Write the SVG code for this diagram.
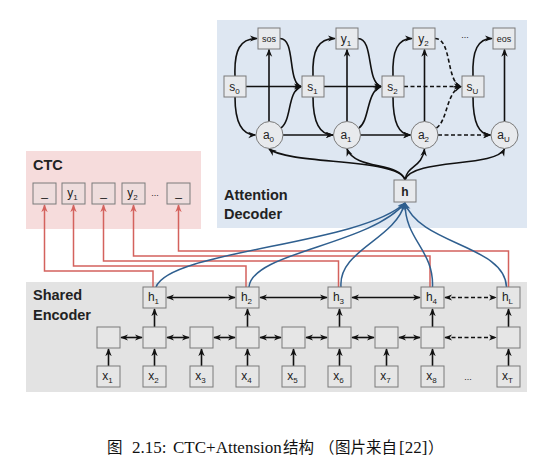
<svg xmlns="http://www.w3.org/2000/svg" width="546" height="466" viewBox="0 0 546 466">
<style>
.bg{stroke:none}
.box{stroke:#7a7a7a;stroke-width:1}
.dbox{fill:#e8eaed}
.cbox{fill:#eedddd}
.ebox{fill:#e6e6e6}
.lbl{font-family:"Liberation Sans",Arial,sans-serif;font-size:12px;fill:#222;text-anchor:middle}
.sm{font-size:9px}
.sub{font-size:8px}
.title{font-family:"Liberation Sans",Arial,sans-serif;font-size:14.5px;font-weight:bold;fill:#222}
.k{fill:none;stroke:#111;stroke-width:1.6}
.d{stroke-dasharray:4,2.5}
.r{fill:none;stroke:#d4625d;stroke-width:1.5}
.b{fill:none;stroke:#2f5f8f;stroke-width:1.5}
.cap{font-family:"Liberation Serif","Noto Sans CJK SC",serif;font-size:15.5px;fill:#111}
.lat{font-size:17px}
</style>
<defs>
<marker id="ak" viewBox="0 0 10 10" refX="9" refY="5" markerWidth="8" markerHeight="8" markerUnits="userSpaceOnUse" orient="auto-start-reverse"><path d="M0,1 L10,5 L0,9 L3,5z" fill="#111"/></marker>
<marker id="ar" viewBox="0 0 10 10" refX="9" refY="5" markerWidth="8" markerHeight="8" markerUnits="userSpaceOnUse" orient="auto"><path d="M0,1 L10,5 L0,9 L3,5z" fill="#d4625d"/></marker>
<marker id="ab" viewBox="0 0 10 10" refX="9" refY="5" markerWidth="8" markerHeight="8" markerUnits="userSpaceOnUse" orient="auto"><path d="M0,1 L10,5 L0,9 L3,5z" fill="#2f5f8f"/></marker>
</defs>
<rect width="546" height="466" fill="#fff"/>
<g id="backgrounds">
<rect class="bg" x="217" y="20" width="310" height="208" fill="#dee7f2"/>
<rect class="bg" x="26" y="151" width="175" height="78" fill="#f6dcdc"/>
<rect class="bg" x="26" y="282" width="501" height="110" fill="#e3e3e3"/>
</g>
<g id="titles">
<text class="title" x="33" y="170">CTC</text>
<text class="title" x="224" y="200">Attention</text>
<text class="title" x="224" y="219">Decoder</text>
<text class="title" x="33" y="300">Shared</text>
<text class="title" x="33" y="320">Encoder</text>
</g>
<g id="connectors">
<path class="k" d="M246,86.5 H301" marker-end="url(#ak)"/>
<path class="k" d="M324,86.5 H381" marker-end="url(#ak)"/>
<path class="k d" d="M404,86.5 H461" marker-end="url(#ak)"/>
<path class="k" d="M283,135 H333" marker-end="url(#ak)"/>
<path class="k" d="M360.5,135 H410.5" marker-end="url(#ak)"/>
<path class="k d" d="M438,135 H490.5" marker-end="url(#ak)"/>
<path class="k" d="M269,121.5 V49.5" marker-end="url(#ak)"/>
<path class="k" d="M347,121.5 V49.5" marker-end="url(#ak)"/>
<path class="k" d="M424.5,121.5 V49.5" marker-end="url(#ak)"/>
<path class="k" d="M504.5,121.5 V49.5" marker-end="url(#ak)"/>
<path class="k" d="M235,76 C234,50 240,38.5 257,38.5" marker-end="url(#ak)"/>
<path class="k" d="M235,97 C235,122 242,135 255.5,135" marker-end="url(#ak)"/>
<path class="k" d="M313,76 C312,50 318,38.5 335,38.5" marker-end="url(#ak)"/>
<path class="k" d="M313,97 C313,122 320,135 333,135" marker-end="url(#ak)"/>
<path class="k" d="M393,76 C392,50 398,38.5 412,38.5" marker-end="url(#ak)"/>
<path class="k" d="M393,97 C393,122 399,135 410.5,135" marker-end="url(#ak)"/>
<path class="k" d="M473,76 C472,50 478,38.5 492,38.5" marker-end="url(#ak)"/>
<path class="k" d="M473,97 C473,122 479,135 490.5,135" marker-end="url(#ak)"/>
<path class="k" d="M280,38.5 C296,38.5 287,82 301,86.5" marker-end="url(#ak)"/>
<path class="k" d="M281,128 C292,120 287,92 301,86.5" marker-end="url(#ak)"/>
<path class="k" d="M358,38.5 C374,38.5 366,82 381,86.5" marker-end="url(#ak)"/>
<path class="k" d="M359,128 C370,120 366,92 381,86.5" marker-end="url(#ak)"/>
<path class="k d" d="M435,38.5 C452,38.5 446,82 461,86.5" marker-end="url(#ak)"/>
<path class="k d" d="M436.5,128 C448,120 446,92 461,86.5" marker-end="url(#ak)"/>
<path class="k" d="M405,180 C400,158 290,165 269,149" marker-end="url(#ak)"/>
<path class="k" d="M405,180 C400,162 355,170 347,149" marker-end="url(#ak)"/>
<path class="k" d="M405,180 C407,165 422,168 424.5,149" marker-end="url(#ak)"/>
<path class="k" d="M405,180 C412,158 495,168 504.5,149" marker-end="url(#ak)"/>
<path class="r" d="M153,287 V271 H44.5 V205" marker-end="url(#ar)"/>
<path class="r" d="M246,287 V266 H73.5 V205" marker-end="url(#ar)"/>
<path class="r" d="M338.5,287 V261 H103.5 V205" marker-end="url(#ar)"/>
<path class="r" d="M430,287 V256 H133.5 V205" marker-end="url(#ar)"/>
<path class="r" d="M508.5,287 V251 H178.5 V205" marker-end="url(#ar)"/>
<path class="b" d="M156,287 C170,250 360,245 405,203" marker-end="url(#ab)"/>
<path class="b" d="M249,287 C252,252 370,245 405,203" marker-end="url(#ab)"/>
<path class="b" d="M341,287 C338,250 395,240 405,203" marker-end="url(#ab)"/>
<path class="b" d="M432.5,287 C434,250 405,240 405,203" marker-end="url(#ab)"/>
<path class="b" d="M506.5,287 C505,245 420,245 405,203" marker-end="url(#ab)"/>
<path class="k" d="M167,297.5 H235" marker-start="url(#ak)" marker-end="url(#ak)"/>
<path class="k" d="M260,297.5 H327" marker-start="url(#ak)" marker-end="url(#ak)"/>
<path class="k" d="M352,297.5 H420" marker-start="url(#ak)" marker-end="url(#ak)"/>
<path class="k d" d="M445,297.5 H496" marker-start="url(#ak)" marker-end="url(#ak)"/>
<path class="k" d="M121,337.5 H142" marker-start="url(#ak)" marker-end="url(#ak)"/>
<path class="k" d="M167,337.5 H189" marker-start="url(#ak)" marker-end="url(#ak)"/>
<path class="k" d="M214,337.5 H235" marker-start="url(#ak)" marker-end="url(#ak)"/>
<path class="k" d="M260,337.5 H281" marker-start="url(#ak)" marker-end="url(#ak)"/>
<path class="k" d="M306,337.5 H327" marker-start="url(#ak)" marker-end="url(#ak)"/>
<path class="k" d="M352,337.5 H374" marker-start="url(#ak)" marker-end="url(#ak)"/>
<path class="k" d="M399,337.5 H420" marker-start="url(#ak)" marker-end="url(#ak)"/>
<path class="k d" d="M445,337.5 H496" marker-start="url(#ak)" marker-end="url(#ak)"/>
<path class="k" d="M108.5,366 V349" marker-end="url(#ak)"/>
<path class="k" d="M154.5,366 V349" marker-end="url(#ak)"/>
<path class="k" d="M201.5,366 V349" marker-end="url(#ak)"/>
<path class="k" d="M247.5,366 V349" marker-end="url(#ak)"/>
<path class="k" d="M293.5,366 V349" marker-end="url(#ak)"/>
<path class="k" d="M339.5,366 V349" marker-end="url(#ak)"/>
<path class="k" d="M386.5,366 V349" marker-end="url(#ak)"/>
<path class="k" d="M432.5,366 V349" marker-end="url(#ak)"/>
<path class="k" d="M508.5,366 V349" marker-end="url(#ak)"/>
<path class="k" d="M154.5,327 V309" marker-end="url(#ak)"/>
<path class="k" d="M247.5,327 V309" marker-end="url(#ak)"/>
<path class="k" d="M339.5,327 V309" marker-end="url(#ak)"/>
<path class="k" d="M432.5,327 V309" marker-end="url(#ak)"/>
<path class="k" d="M508.5,327 V309" marker-end="url(#ak)"/>
</g>
<g id="sos"><rect class="box dbox" x="258" y="28" width="22" height="21"/><text class="lbl sm" x="269" y="42">sos</text></g>
<g id="y1d"><rect class="box dbox" x="336" y="28" width="22" height="21"/><text class="lbl" x="346" y="42.5">y<tspan class="sub" dy="3">1</tspan></text></g>
<g id="y2d"><rect class="box dbox" x="413" y="28" width="22" height="21"/><text class="lbl" x="423.5" y="42.5">y<tspan class="sub" dy="3">2</tspan></text></g>
<g id="eos"><rect class="box dbox" x="493" y="28" width="22" height="21"/><text class="lbl sm" x="504" y="42">eos</text></g>
<text class="lbl sm" x="465" y="38">...</text>
<g id="s0"><rect class="box dbox" x="224" y="76" width="22" height="21"/><text class="lbl" x="234.5" y="90.5">s<tspan class="sub" dy="3">0</tspan></text></g>
<g id="s1"><rect class="box dbox" x="302" y="76" width="22" height="21"/><text class="lbl" x="312.5" y="90.5">s<tspan class="sub" dy="3">1</tspan></text></g>
<g id="s2"><rect class="box dbox" x="382" y="76" width="22" height="21"/><text class="lbl" x="392.5" y="90.5">s<tspan class="sub" dy="3">2</tspan></text></g>
<g id="sU"><rect class="box dbox" x="462" y="76" width="22" height="21"/><text class="lbl" x="472.5" y="90.5">s<tspan class="sub" dy="3">U</tspan></text></g>
<g id="a0"><circle class="box dbox" cx="269.5" cy="135" r="13.5"/><text class="lbl" x="268.5" y="139">a<tspan class="sub" dy="3">0</tspan></text></g>
<g id="a1"><circle class="box dbox" cx="347" cy="135" r="13.5"/><text class="lbl" x="346" y="139">a<tspan class="sub" dy="3">1</tspan></text></g>
<g id="a2"><circle class="box dbox" cx="424.5" cy="135" r="13.5"/><text class="lbl" x="423.5" y="139">a<tspan class="sub" dy="3">2</tspan></text></g>
<g id="aU"><circle class="box dbox" cx="504.5" cy="135" r="13.5"/><text class="lbl" x="503.5" y="139">a<tspan class="sub" dy="3">U</tspan></text></g>
<g id="h"><rect class="box dbox" x="394" y="180" width="22" height="22"/><text class="lbl" x="405" y="195.5" font-weight="bold">h</text></g>
<g id="c1"><rect class="box cbox" x="33" y="183" width="23" height="21"/><text class="lbl" x="44.5" y="196">_</text></g>
<g id="cy1"><rect class="box cbox" x="62" y="183" width="23" height="21"/><text class="lbl" x="72.5" y="197">y<tspan class="sub" dy="3">1</tspan></text></g>
<g id="c2"><rect class="box cbox" x="92" y="183" width="23" height="21"/><text class="lbl" x="103.5" y="196">_</text></g>
<g id="cy2"><rect class="box cbox" x="122" y="183" width="23" height="21"/><text class="lbl" x="132.5" y="197">y<tspan class="sub" dy="3">2</tspan></text></g>
<text class="lbl sm" x="155" y="196">...</text>
<g id="c3"><rect class="box cbox" x="167" y="183" width="23" height="21"/><text class="lbl" x="178.5" y="196">_</text></g>
<g id="h1"><rect class="box ebox" x="143" y="287" width="23" height="21"/><text class="lbl" x="153.5" y="301">h<tspan class="sub" dy="3">1</tspan></text></g>
<g id="h2"><rect class="box ebox" x="236" y="287" width="23" height="21"/><text class="lbl" x="246.5" y="301">h<tspan class="sub" dy="3">2</tspan></text></g>
<g id="h3"><rect class="box ebox" x="328" y="287" width="23" height="21"/><text class="lbl" x="338.5" y="301">h<tspan class="sub" dy="3">3</tspan></text></g>
<g id="h4"><rect class="box ebox" x="421" y="287" width="23" height="21"/><text class="lbl" x="431.5" y="301">h<tspan class="sub" dy="3">4</tspan></text></g>
<g id="hL"><rect class="box ebox" x="497" y="287" width="23" height="21"/><text class="lbl" x="507.5" y="301">h<tspan class="sub" dy="3">L</tspan></text></g>
<g id="m1"><rect class="box ebox" x="97" y="327" width="23" height="21"/></g>
<g id="m2"><rect class="box ebox" x="143" y="327" width="23" height="21"/></g>
<g id="m3"><rect class="box ebox" x="190" y="327" width="23" height="21"/></g>
<g id="m4"><rect class="box ebox" x="236" y="327" width="23" height="21"/></g>
<g id="m5"><rect class="box ebox" x="282" y="327" width="23" height="21"/></g>
<g id="m6"><rect class="box ebox" x="328" y="327" width="23" height="21"/></g>
<g id="m7"><rect class="box ebox" x="375" y="327" width="23" height="21"/></g>
<g id="m8"><rect class="box ebox" x="421" y="327" width="23" height="21"/></g>
<g id="mT"><rect class="box ebox" x="497" y="327" width="23" height="21"/></g>
<g id="x1"><rect class="box ebox" x="97" y="366" width="23" height="21"/><text class="lbl" x="107.5" y="380">x<tspan class="sub" dy="3">1</tspan></text></g>
<g id="x2"><rect class="box ebox" x="143" y="366" width="23" height="21"/><text class="lbl" x="153.5" y="380">x<tspan class="sub" dy="3">2</tspan></text></g>
<g id="x3"><rect class="box ebox" x="190" y="366" width="23" height="21"/><text class="lbl" x="200.5" y="380">x<tspan class="sub" dy="3">3</tspan></text></g>
<g id="x4"><rect class="box ebox" x="236" y="366" width="23" height="21"/><text class="lbl" x="246.5" y="380">x<tspan class="sub" dy="3">4</tspan></text></g>
<g id="x5"><rect class="box ebox" x="282" y="366" width="23" height="21"/><text class="lbl" x="292.5" y="380">x<tspan class="sub" dy="3">5</tspan></text></g>
<g id="x6"><rect class="box ebox" x="328" y="366" width="23" height="21"/><text class="lbl" x="338.5" y="380">x<tspan class="sub" dy="3">6</tspan></text></g>
<g id="x7"><rect class="box ebox" x="375" y="366" width="23" height="21"/><text class="lbl" x="385.5" y="380">x<tspan class="sub" dy="3">7</tspan></text></g>
<g id="x8"><rect class="box ebox" x="421" y="366" width="23" height="21"/><text class="lbl" x="431.5" y="380">x<tspan class="sub" dy="3">8</tspan></text></g>
<text class="lbl sm" x="468" y="380">...</text>
<g id="xT"><rect class="box ebox" x="497" y="366" width="23" height="21"/><text class="lbl" x="507.5" y="380">x<tspan class="sub" dy="3">T</tspan></text></g>
<text class="cap" y="453"><tspan x="107">图</tspan><tspan class="lat" x="132">2.15:</tspan><tspan class="lat" x="173">CTC+Attension</tspan><tspan x="283">结构</tspan><tspan x="319">（</tspan><tspan x="335">图片来自</tspan><tspan class="lat" x="399">[22]</tspan><tspan x="428">）</tspan></text>
</svg>
